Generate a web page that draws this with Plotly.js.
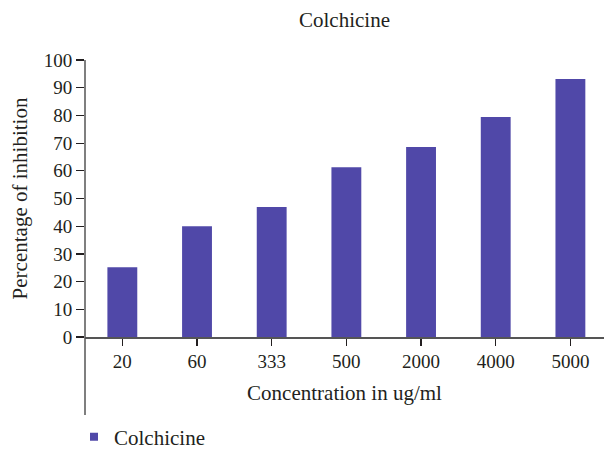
<!DOCTYPE html>
<html>
<head>
<meta charset="utf-8">
<script src="https://cdn.plot.ly/plotly-3.0.1.min.js"></script>
<style>html,body{margin:0;padding:0;background:#fff;}</style>
</head>
<body>
<div id="chart" style="width:604px;height:451px;"></div>
<script>
const categories = ["20", "60", "333", "500", "2000", "4000", "5000"];
const inhibition = [25.2, 40.0, 46.9, 61.3, 68.6, 79.4, 93.1];
const seriesName = "Colchicine";
const yTicks = [0, 10, 20, 30, 40, 50, 60, 70, 80, 90, 100];

const font = "'Liberation Serif', 'DejaVu Serif', serif";
const txt = "#231f20";
const barColor = "#5048a8";

const data = [{
  type: "bar",
  x: categories,
  y: inhibition,
  name: seriesName,
  marker: {color: barColor},
  showlegend: false
}, {
  type: "scatter", mode: "markers",
  x: [null], y: [null],
  name: seriesName,
  marker: {color: barColor, symbol: "square", size: 8},
  showlegend: true
}];

const layout = {
  width: 604, height: 451,
  margin: {l: 85, r: 0, t: 60, b: 114, pad: 0},
  paper_bgcolor: "#fff", plot_bgcolor: "#fff",
  font: {family: font, size: 19, color: txt},
  bargap: 0.6,
  title: {text: "Colchicine", font: {family: font, size: 21, color: txt},
          x: 0.5, xref: "paper", y: 1 - 20/451, yref: "container", yanchor: "middle"},
  xaxis: {
    type: "category", range: [-0.5, 6.45],
    showline: true, linecolor: "#555", linewidth: 1.5,
    ticks: "outside", ticklen: 7, tickcolor: "#231f20", tickwidth: 1.2,
    showgrid: false, zeroline: false, automargin: false,
    tickfont: {family: font, size: 19, color: txt},
    title: {text: "Concentration in ug/ml", font: {family: font, size: 21, color: txt}, standoff: 14}
  },
  yaxis: {
    range: [0, 100], tickvals: yTicks,
    showline: false,
    ticks: "outside", ticklen: 8, tickcolor: "#231f20", tickwidth: 1.2,
    showgrid: false, zeroline: false, automargin: false,
    tickfont: {family: font, size: 19, color: txt},
    title: {text: "Percentage of inhibition", font: {family: font, size: 21, color: txt}, standoff: 10}
  },
  shapes: [{
    type: "line", xref: "paper", yref: "paper",
    x0: 0, x1: 0, y0: (337 - 415) / 277, y1: 1,
    line: {color: "#555", width: 1.5}
  }],
  legend: {
    orientation: "h", x: (74 - 85) / 519, xanchor: "left",
    xref: "paper", yref: "container",
    y: 1 - 437 / 451, yanchor: "middle",
    font: {family: font, size: 21, color: txt}, bgcolor: "rgba(0,0,0,0)"
  }
};

Plotly.newPlot("chart", data, layout, {displayModeBar: false, staticPlot: true});
</script>
</body>
</html>
